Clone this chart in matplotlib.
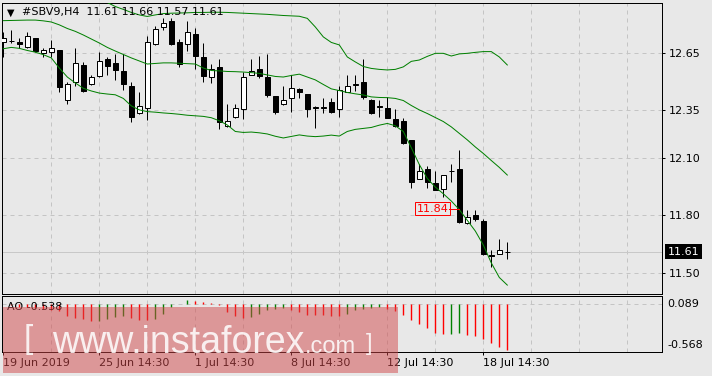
import matplotlib
matplotlib.use("Agg")
import matplotlib.pyplot as plt
import matplotlib.transforms as mtransforms
from matplotlib.patches import Rectangle

# #SBV9 H4 candles (oldest first)
opens = [12.706, 12.715, 12.709, 12.683, 12.727, 12.651, 12.654, 12.666, 12.404, 12.497,
         12.587, 12.488, 12.531, 12.619, 12.599, 12.556, 12.477, 12.334, 12.360, 12.696,
         12.785, 12.819, 12.706, 12.696, 12.749, 12.627, 12.523, 12.575, 12.269, 12.313,
         12.355, 12.533, 12.565, 12.523, 12.425, 12.381, 12.413, 12.460, 12.434, 12.360,
         12.360, 12.392, 12.355, 12.444, 12.482, 12.500, 12.404, 12.373, 12.364, 12.304,
         12.294, 12.195, 11.989, 12.043, 11.968, 11.938, 12.034, 12.043, 11.758, 11.802,
         11.770, 11.590, 11.598, 11.61]
highs = [12.760, 12.770, 12.730, 12.758, 12.730, 12.678, 12.718, 12.668, 12.500, 12.675,
         12.604, 12.535, 12.654, 12.631, 12.643, 12.643, 12.500, 12.444, 12.741, 12.791,
         12.832, 12.832, 12.723, 12.818, 12.779, 12.701, 12.591, 12.619, 12.383, 12.383,
         12.552, 12.619, 12.634, 12.645, 12.426, 12.477, 12.535, 12.468, 12.436, 12.370,
         12.413, 12.413, 12.477, 12.535, 12.535, 12.617, 12.409, 12.404, 12.421, 12.357,
         12.311, 12.196, 12.069, 12.058, 12.032, 12.012, 12.069, 12.142, 11.828, 11.828,
         11.781, 11.618, 11.676, 11.66]
lows = [12.629, 12.702, 12.676, 12.675, 12.654, 12.631, 12.631, 12.447, 12.383, 12.479,
        12.447, 12.482, 12.523, 12.535, 12.509, 12.456, 12.290, 12.332, 12.299, 12.692,
        12.770, 12.692, 12.578, 12.662, 12.565, 12.500, 12.494, 12.250, 12.264, 12.312,
        12.303, 12.532, 12.521, 12.421, 12.331, 12.380, 12.343, 12.413, 12.313, 12.259,
        12.334, 12.334, 12.313, 12.443, 12.451, 12.409, 12.333, 12.313, 12.310, 12.264,
        12.172, 11.945, 11.988, 11.945, 11.932, 11.898, 11.976, 11.758, 11.757, 11.772,
        11.595, 11.528, 11.597, 11.57]
closes = [12.727, 12.713, 12.696, 12.739, 12.662, 12.666, 12.675, 12.474, 12.486, 12.596,
          12.453, 12.523, 12.608, 12.584, 12.561, 12.486, 12.313, 12.373, 12.706, 12.774,
          12.806, 12.696, 12.592, 12.758, 12.634, 12.531, 12.566, 12.290, 12.294, 12.360,
          12.523, 12.556, 12.531, 12.430, 12.343, 12.404, 12.465, 12.444, 12.355, 12.369,
          12.369, 12.343, 12.456, 12.477, 12.486, 12.421, 12.334, 12.369, 12.311, 12.269,
          12.180, 11.976, 12.032, 11.976, 11.933, 12.011, 12.033, 11.764, 11.790, 11.779,
          11.596, 11.589, 11.618, 11.61]

# Bollinger bands
bb_upper = [12.966, 12.962, 12.969, 12.981, 12.991, 12.994, 13.001, 13.022, 13.032, 13.032,
            13.024, 12.996, 12.965, 12.914, 12.893, 12.878, 12.862, 12.849, 12.841, 12.849,
            12.856, 12.858, 12.859, 12.860, 12.862, 12.862, 12.863, 12.863, 12.862, 12.860,
            12.858, 12.856, 12.854, 12.852, 12.849, 12.846, 12.844, 12.842, 12.831, 12.786,
            12.734, 12.705, 12.692, 12.629, 12.603, 12.579, 12.569, 12.564, 12.561, 12.564,
            12.577, 12.606, 12.613, 12.632, 12.648, 12.648, 12.634, 12.645, 12.648, 12.653,
            12.657, 12.657, 12.629, 12.587]
bb_middle = [12.819, 12.820, 12.821, 12.822, 12.822, 12.818, 12.812, 12.797, 12.778, 12.763,
             12.744, 12.723, 12.702, 12.679, 12.660, 12.642, 12.624, 12.608, 12.592, 12.595,
             12.598, 12.598, 12.596, 12.594, 12.592, 12.571, 12.558, 12.556, 12.553, 12.552,
             12.550, 12.547, 12.543, 12.535, 12.527, 12.524, 12.532, 12.539, 12.524, 12.509,
             12.485, 12.462, 12.453, 12.443, 12.436, 12.430, 12.420, 12.417, 12.416, 12.412,
             12.401, 12.375, 12.352, 12.333, 12.312, 12.291, 12.263, 12.229, 12.195, 12.158,
             12.124, 12.087, 12.051, 12.011]
bb_lower = [12.672, 12.679, 12.674, 12.663, 12.654, 12.641, 12.624, 12.571, 12.524, 12.493,
            12.465, 12.451, 12.440, 12.435, 12.431, 12.412, 12.373, 12.352, 12.343, 12.340,
            12.336, 12.333, 12.329, 12.324, 12.321, 12.318, 12.311, 12.295, 12.273, 12.239,
            12.234, 12.236, 12.232, 12.226, 12.214, 12.205, 12.213, 12.221, 12.215, 12.212,
            12.215, 12.220, 12.215, 12.239, 12.250, 12.255, 12.260, 12.272, 12.281, 12.269,
            12.239, 12.154, 12.066, 11.993, 11.948, 11.913, 11.875, 11.830, 11.774, 11.718,
            11.645, 11.551, 11.475, 11.435]

# Awesome Oscillator
ao = [-0.010, -0.020, -0.035, -0.045, -0.055, -0.065, -0.075, -0.091, -0.142, -0.169,
      -0.181, -0.200, -0.197, -0.181, -0.158, -0.150, -0.169, -0.190, -0.195, -0.181,
      -0.118, -0.039, -0.008, 0.047, 0.035, 0.016, 0.005, -0.015, -0.103, -0.150,
      -0.170, -0.158, -0.122, -0.079, -0.063, -0.051, -0.079, -0.103, -0.130, -0.134,
      -0.138, -0.142, -0.145, -0.122, -0.079, -0.063, -0.051, -0.040, -0.063, -0.091,
      -0.130, -0.189, -0.241, -0.288, -0.339, -0.359, -0.355, -0.347, -0.367, -0.375,
      -0.414, -0.465, -0.505, -0.538]

price_ticks = [12.65, 12.35, 12.10, 11.80, 11.50]
ao_ticks = [0.089, -0.568]
date_pos = [0, 12, 24, 36, 48, 60]
date_labels = ["19 Jun 2019", "25 Jun 14:30", "1 Jul 14:30", "8 Jul 14:30",
               "12 Jul 14:30", "18 Jul 14:30"]
last_price = 11.61
marker_price = 11.84

BG = "#e8e8e8"
GRID = "#c4c4c4"
W, H = 712, 376
px = 0.72  # one pixel in points at dpi 100

plt.rcParams["font.family"] = ["DejaVu Sans"]
fig = plt.figure(figsize=(W / 100, H / 100), dpi=100, facecolor=BG)

def frac(x0, y0, x1, y1):
    return [x0 / W, 1 - y1 / H, (x1 - x0) / W, (y1 - y0) / H]

ax = fig.add_axes(frac(2.3, 2.5, 662.3, 293.5))
ax2 = fig.add_axes(frac(2.3, 295.5, 662.3, 352.3))
n = len(closes)
xs = list(range(n))

for a in (ax, ax2):
    a.set_facecolor(BG)
    a.set_xlim(-0.125, 82.375)
    for s in a.spines.values():
        s.set_color("black")
        s.set_linewidth(px)
    for g in range(6, 83, 6):
        a.axvline(g, color=GRID, lw=px, ls=(0, (4, 4)), zorder=0)

# main chart
ax.set_ylim(11.391, 12.914)
for y in price_ticks:
    ax.axhline(y, color=GRID, lw=px, ls=(0, (4, 4)), zorder=0)
ax.axhline(last_price, color="#c8c8c8", lw=px, zorder=0.5)

bw = 0.55
for i in xs:
    o, h, l, c = opens[i], highs[i], lows[i], closes[i]
    ax.vlines(i, l, h, color="black", lw=px, zorder=2)
    fc = "white" if c >= o else "black"
    ax.add_patch(Rectangle((i - bw / 2, min(o, c)), bw, abs(c - o),
                           fc=fc, ec="black", lw=px, zorder=3))

for band in (bb_upper, bb_middle, bb_lower):
    ax.plot(xs, band, color="#008000", lw=px, zorder=4)

ax.yaxis.tick_right()
ax.set_yticks(price_ticks)
ax.set_yticklabels([f"{v:.2f}" for v in price_ticks])
ax.tick_params(axis="y", length=2.5, width=px, pad=2, labelsize=8, colors="black")
ax.set_xticks([])

blend = mtransforms.blended_transform_factory(ax.transAxes, ax.transData)
ax.text(1.0085, last_price, f"{last_price:.2f}", transform=blend, color="white",
        fontsize=8, va="center", ha="left",
        bbox=dict(fc="black", ec="none", pad=1.8), clip_on=False)

# 11.84 marker
ax.text(53.65, marker_price - 0.005, f"{marker_price:.2f}", color="red", fontsize=8,
        ha="center", va="center", zorder=6,
        bbox=dict(fc=BG, ec="red", lw=px, pad=1.3))
ax.plot([55.75, 57.0], [marker_price - 0.007] * 2, color="red", lw=px, zorder=6)

# AO sub window
ax2.set_ylim(-0.568, 0.095)
ax2.axhline(0, color=GRID, lw=px, ls=(0, (4, 4)), zorder=0)
ao_colors = ["red"] + ["#008000" if ao[i] > ao[i - 1] else "red" for i in range(1, n)]
ax2.vlines(xs, 0, ao, colors=ao_colors, lw=1.0, zorder=2)
ax2.yaxis.tick_right()
ax2.set_yticks(ao_ticks)
ax2.set_yticklabels([f"{v:.3f}" for v in ao_ticks])
ax2.tick_params(axis="y", length=0, pad=3.5, labelsize=8)
labs = ax2.get_yticklabels()
labs[0].set_va("top")
labs[1].set_va("bottom")
labs[0].set_transform(labs[0].get_transform() +
                      mtransforms.ScaledTranslation(0, -3 / 100, fig.dpi_scale_trans))
labs[1].set_transform(labs[1].get_transform() +
                      mtransforms.ScaledTranslation(0, 2 / 100, fig.dpi_scale_trans))
ax2.set_xticks(date_pos)
ax2.set_xticklabels(date_labels, ha="left")
ax2.tick_params(axis="x", length=2.5, width=px, pad=1.5, labelsize=8)

# texts and watermark in figure pixels
ov = fig.add_axes([0, 0, 1, 1], zorder=10)
ov.set_xlim(0, W)
ov.set_ylim(H, 0)
ov.axis("off")
ov.patch.set_alpha(0)
ov.text(11, 12.5, "\u25bc", fontsize=7, ha="center", va="center")
ov.text(21.5, 12.5, "#SBV9,H4  %.2f %.2f %.2f %.2f" % (opens[-1], highs[-1], lows[-1], closes[-1]),
        fontsize=8, ha="left", va="center")
ov.text(7, 306.5, "AO %.3f" % ao[-1], fontsize=8, ha="left", va="center")
ov.add_patch(Rectangle((2.7, 306.5), 395.3, 66.2, fc="#d2484a", ec="none", alpha=0.5, zorder=5))
wm = dict(color="white", alpha=0.85, family="Liberation Sans", ha="left", zorder=6)
ov.text(24, 355, "[", fontsize=24, va="bottom", **wm)
ov.text(52.5, 352.7, "www.instaforex", fontsize=27, va="baseline", **wm)
ov.text(305, 352.7, ".com", fontsize=17, va="baseline", **wm)
ov.text(365.5, 355, "]", fontsize=17, va="bottom", **wm)

fig.savefig("out.png", dpi=100, facecolor=BG)
